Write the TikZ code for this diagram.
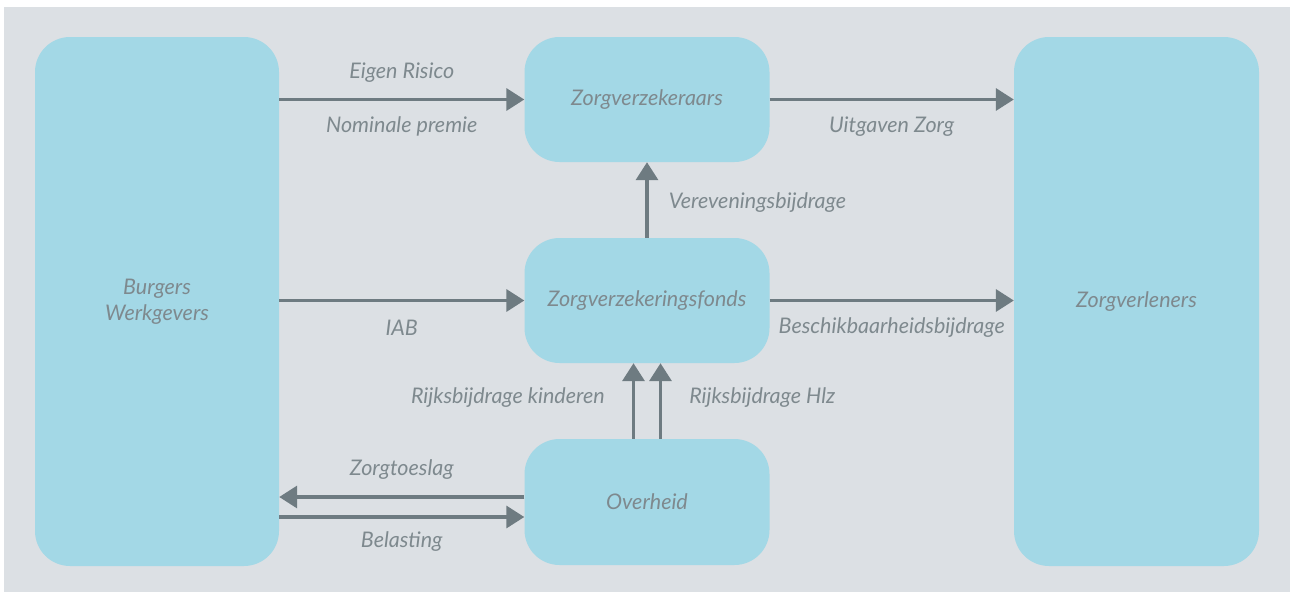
\documentclass[tikz,border=0pt]{standalone}
\usepackage{fontspec}
\setmainfont{Lato}
\usetikzlibrary{arrows.meta, positioning}

\definecolor{achtergrond}{HTML}{DCE0E4}
\definecolor{blok}{HTML}{A3D8E6}
\definecolor{pijl}{HTML}{6E7B81}
\definecolor{tekst}{HTML}{7E898E}

\begin{document}
\begin{tikzpicture}[x=1pt, y=-1pt,
        blok/.style={fill=blok, rounded corners=35pt, inner sep=0pt, align=center,
            text=tekst, font=\fontsize{21.5}{26}\selectfont\itshape},
        stroom/.style={draw=pijl, line width=3.5pt, -{Triangle[length=18pt, width=22pt]}},
        etiket/.style={text=tekst, font=\fontsize{21.5}{26}\selectfont\itshape, inner sep=0pt}]
            \useasboundingbox (0,0) rectangle (1290,592);
            \fill [achtergrond] (4,7) rectangle (1290,592);
            % blokken
            \node [blok, minimum width=244pt, minimum height=529pt] (burgers) at (157,301.5) {Burgers\\Werkgevers};
            \node [blok, minimum width=245pt, minimum height=125pt] (verzekeraars) at (647,99.5) {Zorgverzekeraars};
            \node [blok, minimum width=245pt, minimum height=125pt] (fonds) at (647,300.5) {Zorgverzekeringsfonds};
            \node [blok, minimum width=245pt, minimum height=126pt] (overheid) at (647,502) {Overheid};
            \node [blok, minimum width=245pt, minimum height=529pt] (verleners) at (1136.5,301.5) {Zorgverleners};
            % geldstromen
            \draw [stroom] (burgers.east |- verzekeraars.west) -- (verzekeraars.west)
                node [etiket, midway, yshift=27pt] {Eigen Risico}
                node [etiket, midway, yshift=-27pt] {Nominale premie};
            \draw [stroom] (verzekeraars.east) -- (verleners.west |- verzekeraars.east)
                node [etiket, midway, yshift=-27pt] {Uitgaven Zorg};
            \draw [stroom] (fonds.north) -- (verzekeraars.south)
                node [etiket, midway, right=20pt, yshift=-3pt] {Vereveningsbijdrage};
            \draw [stroom] (burgers.east |- fonds.west) -- (fonds.west)
                node [etiket, midway, yshift=-27pt] {IAB};
            \draw [stroom] (fonds.east) -- (verleners.west |- fonds.east)
                node [etiket, midway, yshift=-27pt] {Beschikbaarheidsbijdrage};
            \draw [stroom] ([xshift=-13.5pt]overheid.north) -- ([xshift=-13.5pt]fonds.south)
                node [etiket, midway, left=27pt, yshift=3pt] {Rijksbijdrage kinderen};
            \draw [stroom] ([xshift=13.5pt]overheid.north) -- ([xshift=13.5pt]fonds.south)
                node [etiket, midway, right=27pt, yshift=3pt] {Rijksbijdrage Hlz};
            \draw [stroom] ([yshift=5pt]overheid.west) -- ([yshift=5pt]overheid.west -| burgers.east)
                node [etiket, midway, yshift=27pt] {Zorgtoeslag};
            \draw [stroom] ([yshift=-15pt]overheid.west -| burgers.east) -- ([yshift=-15pt]overheid.west)
                node [etiket, midway, yshift=-25pt] {Belasting};
        \end{tikzpicture}
\end{document}
